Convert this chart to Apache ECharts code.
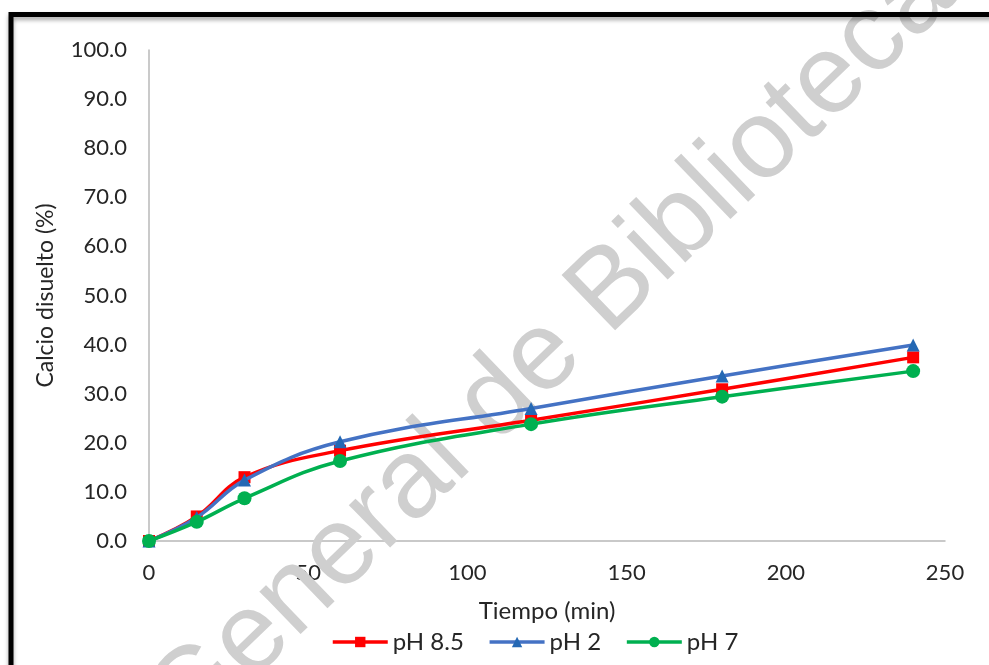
<!DOCTYPE html>
<html>
<head>
<meta charset="utf-8">
<script src="https://cdn.jsdelivr.net/npm/echarts@6/dist/echarts.min.js"></script>
<style>
  html, body { margin: 0; padding: 0; background: #ffffff; }
  #chart { width: 989px; height: 665px; }
</style>
</head>
<body>
<div id="chart"></div>
<script>
// Sampling times (min)
const tiempos = [0, 15, 30, 60, 120, 180, 240];

// Dissolved calcium (%) per pH
const calcioPH85 = [0.0, 5.0, 13.0, 18.4, 24.6, 30.9, 37.4];
const calcioPH2  = [0.0, 4.8, 12.4, 20.2, 27.0, 33.6, 39.9];
const calcioPH7  = [0.0, 3.9, 8.7, 16.3, 23.8, 29.4, 34.6];

const nombresSeries = ['pH 8.5', 'pH 2', 'pH 7'];

const FONT = 'Lato, "Open Sans", sans-serif';

function pares(vals) {
  return tiempos.map((t, i) => [t, vals[i]]);
}

const chart = echarts.init(document.getElementById('chart'), null, { renderer: 'canvas' });

chart.setOption({
  backgroundColor: '#ffffff',
  animation: false,
  grid: { left: 149, right: 44, top: 50, bottom: 124, containLabel: false },
  xAxis: {
    type: 'value',
    min: 0, max: 250, interval: 50,
    name: 'Tiempo (min)',
    nameLocation: 'middle',
    nameGap: 58,
    nameTextStyle: { fontFamily: FONT, fontSize: 24, color: '#262626' },
    axisLine: { show: true, lineStyle: { color: '#b8b8b8', width: 1.5 } },
    axisTick: { show: false },
    splitLine: { show: false },
    axisLabel: { fontFamily: FONT, fontSize: 22, color: '#262626', margin: 21 }
  },
  yAxis: {
    type: 'value',
    min: 0, max: 100, interval: 10,
    name: 'Calcio disuelto (%)',
    nameLocation: 'middle',
    nameGap: 92,
    nameTextStyle: { fontFamily: FONT, fontSize: 23, color: '#262626' },
    axisLine: { show: true, lineStyle: { color: '#b8b8b8', width: 1.5 } },
    axisTick: { show: false },
    splitLine: { show: false },
    axisLabel: {
      fontFamily: FONT, fontSize: 22, color: '#262626', margin: 22,
      formatter: v => v.toFixed(1)
    }
  },
  legend: {
    data: nombresSeries,
    bottom: 6,
    left: 326,
    itemWidth: 55,
    itemHeight: 13,
    itemGap: 24,
    lineStyle: { width: 3.5 },
    textStyle: { fontFamily: FONT, fontSize: 24, color: '#262626' }
  },
  series: [
    {
      name: nombresSeries[0],
      type: 'line',
      smooth: 0.4,
      data: pares(calcioPH85),
      symbol: 'rect',
      symbolSize: 12,
      lineStyle: { color: '#ff0000', width: 3.5 },
      itemStyle: { color: '#ff0000' },
      z: 3
    },
    {
      name: nombresSeries[1],
      type: 'line',
      smooth: 0.4,
      data: pares(calcioPH2),
      symbol: 'triangle',
      symbolSize: 13,
      lineStyle: { color: '#4472c4', width: 3.5 },
      itemStyle: { color: '#2468b4' },
      z: 4
    },
    {
      name: nombresSeries[2],
      type: 'line',
      smooth: 0.4,
      data: pares(calcioPH7),
      symbol: 'circle',
      symbolSize: 14,
      lineStyle: { color: '#00b050', width: 3.5 },
      itemStyle: { color: '#00b050' },
      z: 5
    }
  ],
  graphic: [
    {
      type: 'text',
      x: 166, y: 721,
      rotation: 44 * Math.PI / 180,
      z: 1,
      silent: true,
      style: {
        text: 'General de Bibliotecas',
        fontFamily: '"Liberation Sans", Arial, sans-serif',
        fontSize: 112,
        fill: '#cfcfcf',
        align: 'left',
        verticalAlign: 'middle'
      }
    },
    {
      type: 'rect',
      z: 100,
      silent: true,
      shape: { x: 11, y: 14.5, width: 1100, height: 800 },
      style: {
        fill: null,
        stroke: '#000000',
        lineWidth: 5,
        shadowColor: 'rgba(0,0,0,0.35)',
        shadowBlur: 4,
        shadowOffsetY: 3
      }
    }
  ]
});
</script>
</body>
</html>
